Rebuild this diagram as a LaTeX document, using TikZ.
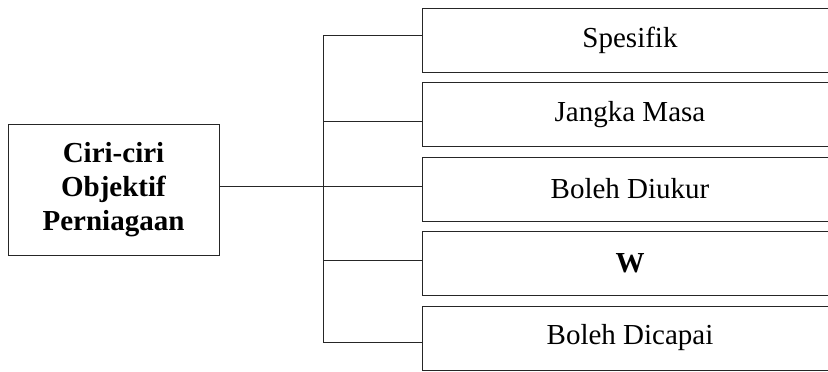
\documentclass[tikz,border=0pt]{standalone}
\usepackage{fontspec}
\setmainfont{Liberation Serif}
\usepackage{tikz}
\usetikzlibrary{positioning}
\usetikzlibrary{calc}
\tikzset{every picture/.style={line width=0.9pt,draw=black!85},box/.style={draw=black!85,minimum width=416pt,minimum height=64pt,inner sep=0pt,font=\fontsize{29}{34}\selectfont}}

\begin{document}
\begin{tikzpicture}[x=1pt,y=-1pt]
\useasboundingbox (0,0) rectangle (828,372);
\clip (0,0) rectangle (828,372);

\node (c) at (113.5,189.5) [draw=black!85,minimum width=211pt,minimum height=131pt,inner sep=0pt,align=center,font=\fontsize{29}{34}\selectfont\bfseries] {Ciri-ciri\\Objektif\\Perniagaan};

\foreach \x/\y/\b/\t in {1/40/35/Spesifik, 2/114.5/121/Jangka Masa, 3/189/186/Boleh Diukur, 4/263.5/260/\textbf{W}, 5/338/342/Boleh Dicapai} {
\node (s\x) at (630,\y) [box] {\t};
\coordinate (j\x) at (323,\b);
\draw[-] (j\x) -- (j\x -| s\x.west);
}

\draw[-] (j1) -- (j5);
\draw[-] (c.east |- j3) -- (j3);

\end{tikzpicture}
\end{document}
